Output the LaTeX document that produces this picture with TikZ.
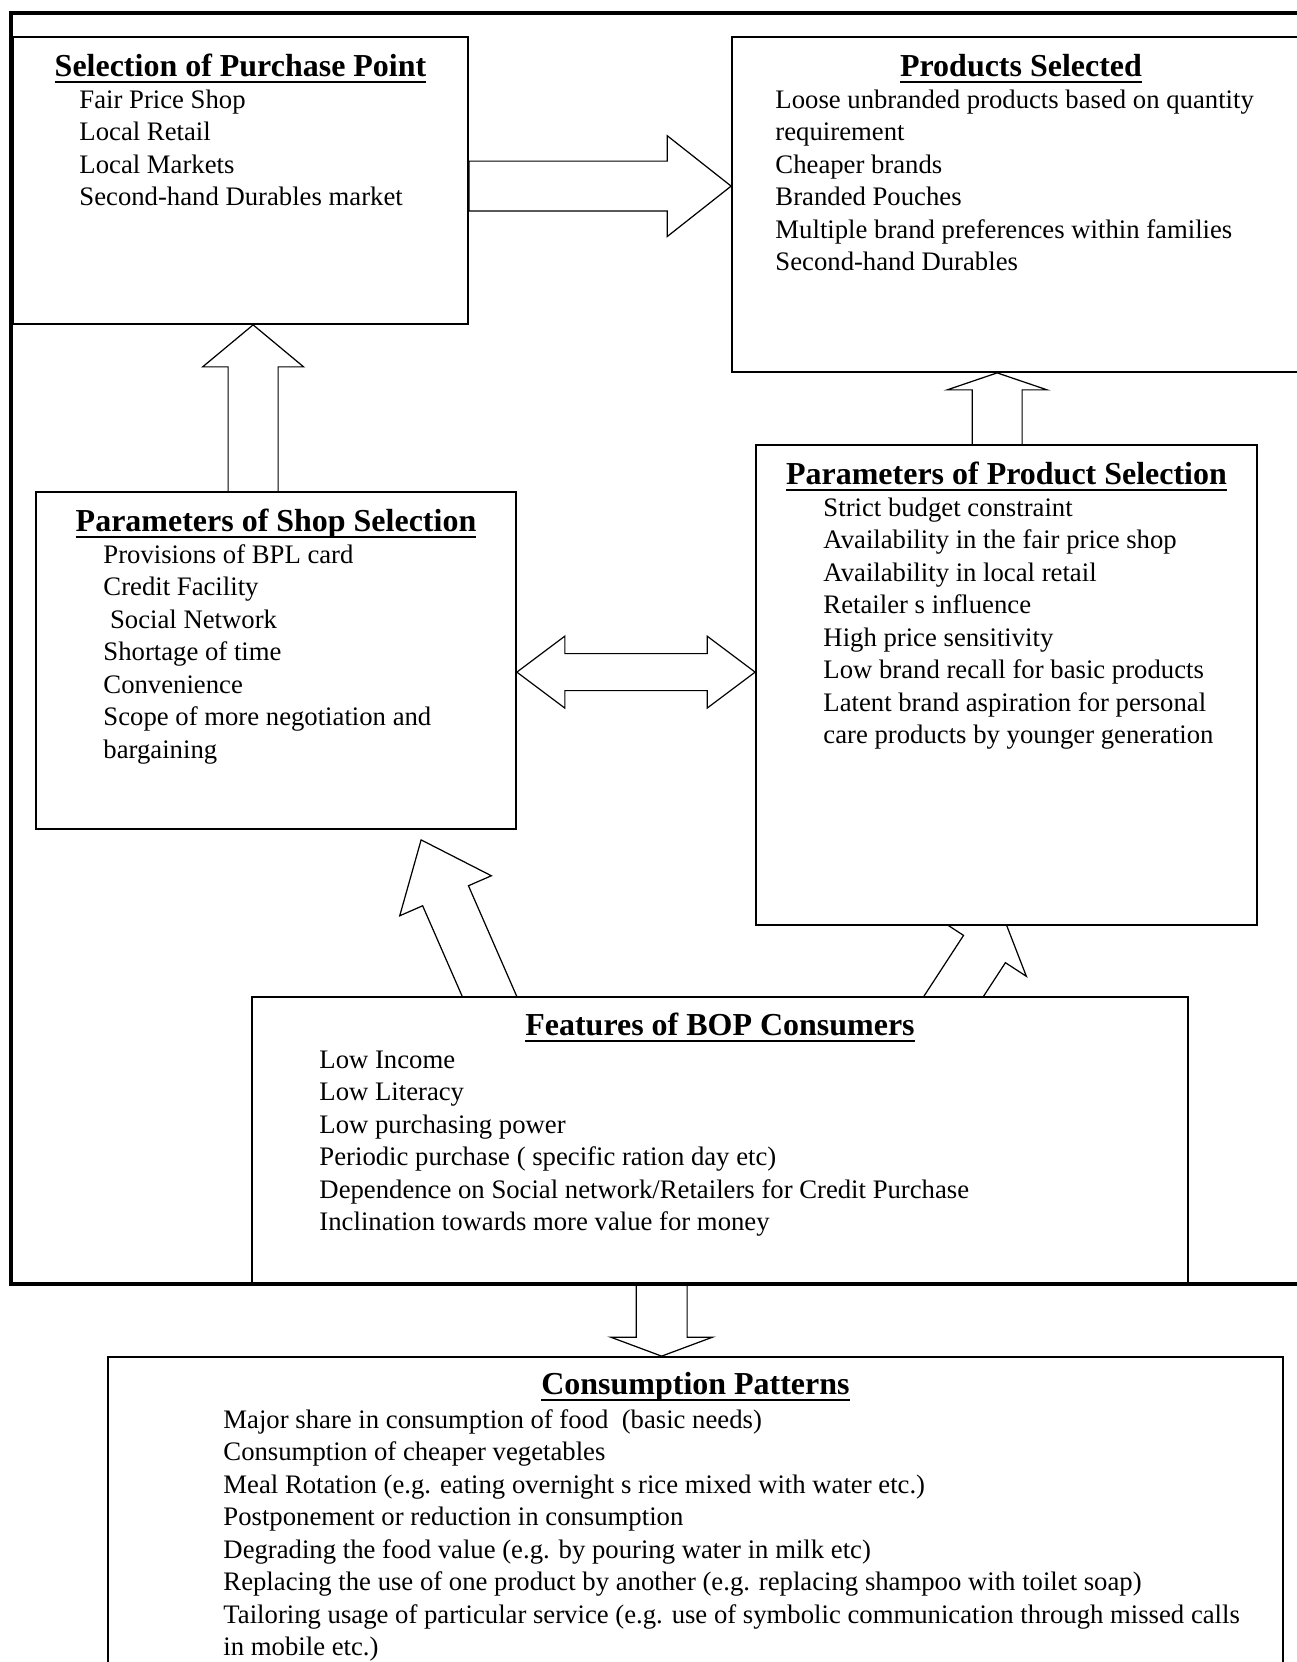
\documentclass[tikz,border=0pt]{standalone}
\usepackage{fontspec}
\setmainfont{Liberation Serif}
\usepackage{tikz}
\usetikzlibrary{backgrounds,calc,fit,positioning}
\newsavebox{\hdbox}
\newcommand{\hdul}[1]{\sbox{\hdbox}{#1}\rlap{\rule[-4.1pt]{\wd\hdbox}{1.5pt}}\usebox{\hdbox}}
\tikzset{
  panel/.style={draw,line width=1pt,fill=white,inner sep=0pt},
  heading/.style={font=\fontsize{18.2pt}{22pt}\selectfont\bfseries,anchor=base,inner sep=0pt},
  entry/.style={font=\fontsize{15.2pt}{18pt}\selectfont,anchor=base west,inner sep=0pt},
  blockarrow/.style={draw,line width=0.7pt,fill=white,line join=miter},
  frameline/.style={line width=1.9pt}
}
% block arrow: tail, tip, shaft half width, head half width, head length
\newcommand{\bigarrow}[5]{%
  \path (#1) coordinate (a-tail) (#2) coordinate (a-tip);
  \path ($(a-tip)!#5!(a-tail)$) coordinate (a-base);
  \draw[blockarrow] (a-tip) -- ($(a-base)!#4!90:(a-tip)$) -- ($(a-base)!#3!90:(a-tip)$)
    -- ($(a-tail)!#3!90:(a-tip)$) -- ($(a-tail)!#3!-90:(a-tip)$)
    -- ($(a-base)!#3!-90:(a-tip)$) -- ($(a-base)!#4!-90:(a-tip)$) -- cycle;
}
\newcommand{\dblarrow}[5]{%
  \path (#1) coordinate (d-a) (#2) coordinate (d-b);
  \path ($(d-a)!#5!(d-b)$) coordinate (d-ha) ($(d-b)!#5!(d-a)$) coordinate (d-hb);
  \draw[blockarrow] (d-a) -- ($(d-ha)!#4!90:(d-b)$) -- ($(d-ha)!#3!90:(d-b)$)
    -- ($(d-hb)!#3!-90:(d-a)$) -- ($(d-hb)!#4!-90:(d-a)$) -- (d-b)
    -- ($(d-hb)!#4!90:(d-a)$) -- ($(d-hb)!#3!90:(d-a)$)
    -- ($(d-ha)!#3!-90:(d-b)$) -- ($(d-ha)!#4!-90:(d-b)$) -- cycle;
}
% list lines under a heading
\newcommand{\entries}[3]{%
  \foreach \txt [count=\i from 0] in {#3}
    \node[entry] (#1-\i) at ($(#1.north west)+(#2,72+32.5*\i)$) {\txt};
}

\begin{document}
\begin{tikzpicture}[x=0.02cm,y=-0.02cm]
  \useasboundingbox (0,0) rectangle (1297,1662);
  \clip (0,0) rectangle (1297,1662);

  \node[panel,fit={(13,37) (468,324)}] (pp) {};
  \node[panel,fit={(732,37) (1310,372)}] (ps) {};
  \node[panel,fit={(36,492) (516,829)}] (shop) {};
  \node[panel,fit={(756,445) (1257,925)}] (prod) {};
  \node[panel,fit={(252,997) (1188,1284)}] (bop) {};
  \node[panel,fit={(108,1357) (1283,1720)}] (cons) {};

  \begin{scope}[on background layer]
    \bigarrow{$(pp.north east)+(0,150)$}{$(ps.north west)+(0,150)$}{0.5cm}{1.01cm}{1.28cm}
    \bigarrow{$(shop.north west)+(218,20)$}{$(pp.south west)+(241,0)$}{0.5cm}{1.01cm}{0.84cm}
    \bigarrow{$(prod.north west)+(242,20)$}{$(ps.south west)+(266,0)$}{0.5cm}{1cm}{0.34cm}
    \dblarrow{$(shop.north east)+(0,181)$}{$(prod.north west)+(0,228)$}{0.37cm}{0.72cm}{0.96cm}
    \bigarrow{$(bop.north west)+(247,20)$}{$(shop.south west)+(386,10)$}{0.5cm}{1cm}{1.22cm}
    \bigarrow{$(bop.north west)+(689,21)$}{$(prod.south west)+(249,-7)$}{0.5cm}{1cm}{0.72cm}
    \bigarrow{$(bop.south west)+(410.5,-20)$}{$(cons.north west)+(554.5,0)$}{0.51cm}{1.02cm}{0.38cm}
  \end{scope}

  \node[heading] (pp-title) at ($(pp.north)+(0,40)$) {\hdul{Selection of Purchase Point}};
  \entries{pp}{67}{Fair Price Shop, Local Retail, Local Markets, Second-hand Durables market}

  \node[heading] (ps-title) at ($(ps.north)+(0,40)$) {\hdul{Products Selected}};
  \entries{ps}{44}{Loose unbranded products based on quantity, requirement, Cheaper brands,
    Branded Pouches, Multiple brand preferences within families, Second-hand Durables}

  \node[heading] (shop-title) at ($(shop.north)+(0,40)$) {\hdul{Parameters of Shop Selection}};
  \entries{shop}{68}{Provisions of BPL card, Credit Facility, {\ Social Network}, Shortage of time,
    Convenience, Scope of more negotiation and, bargaining}

  \node[heading] (prod-title) at ($(prod.north)+(0,40)$) {\hdul{Parameters of Product Selection}};
  \entries{prod}{68}{Strict budget constraint, Availability in the fair price shop,
    Availability in local retail, Retailer s influence, High price sensitivity,
    Low brand recall for basic products, Latent brand aspiration for personal,
    care products by younger generation}

  \node[heading] (bop-title) at ($(bop.north)+(0,39)$) {\hdul{Features of BOP Consumers}};
  \entries{bop}{68}{Low Income, Low Literacy, Low purchasing power,
    Periodic purchase ( specific ration day etc),
    Dependence on Social network/Retailers for Credit Purchase,
    Inclination towards more value for money}

  \node[heading] (cons-title) at ($(cons.north)+(0,38)$) {\hdul{Consumption Patterns}};
  \entries{cons}{116}{Major share in consumption of food~ (basic needs),
    Consumption of cheaper vegetables,
    Meal Rotation (e.g. eating overnight s rice mixed with water etc.),
    Postponement or reduction in consumption,
    Degrading the food value (e.g. by pouring water in milk etc),
    Replacing the use of one product by another (e.g. replacing shampoo with toilet soap),
    Tailoring usage of particular service (e.g. use of symbolic communication through missed calls,
    in mobile etc.)}

  % outer frame
  \draw[frameline] (1320,13) -- (11,13) -- (11,1284) -- (1320,1284);
\end{tikzpicture}
\end{document}
